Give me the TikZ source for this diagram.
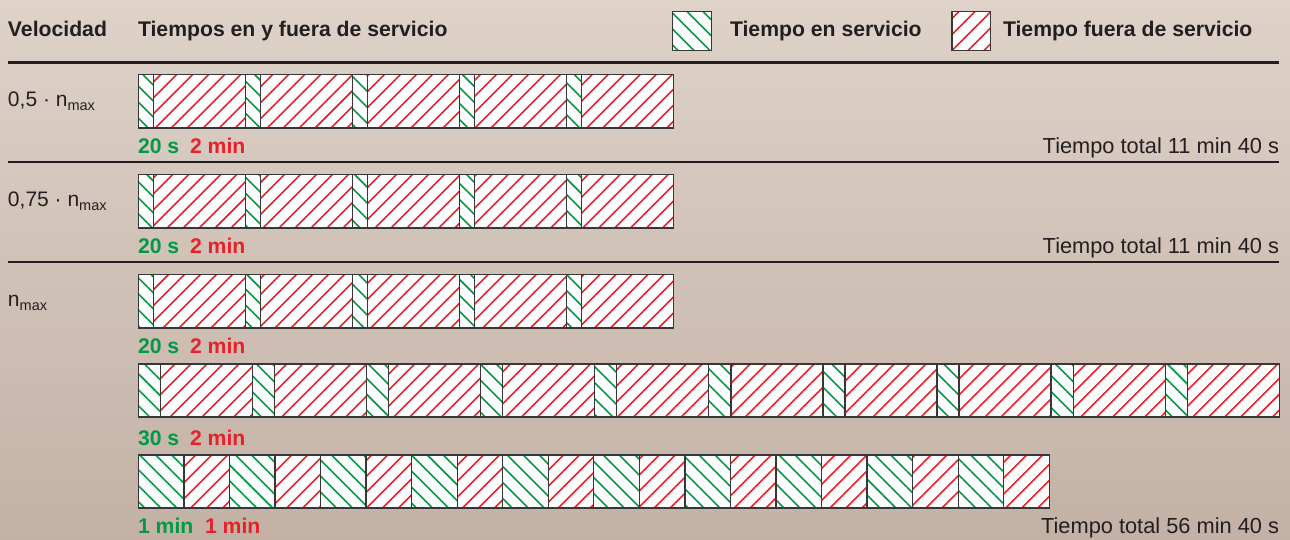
\documentclass[tikz,border=0pt]{standalone}
\usepackage{fontspec}
\setmainfont{Liberation Sans}
\usetikzlibrary{patterns.meta}
\definecolor{gr}{RGB}{0,154,70}
\definecolor{rd}{RGB}{232,32,40}
\definecolor{ink}{RGB}{35,31,32}
\definecolor{bgtop}{RGB}{222,210,201}
\definecolor{bgbot}{RGB}{195,177,165}
\definecolor{edge}{RGB}{55,55,55}
\newcommand{\nmaxlbl}{n\raisebox{-4pt}{\fontsize{14.5}{15}\selectfont max}}
\begin{document}
\begin{tikzpicture}[x=1pt,y=-1pt,
  txt/.style={anchor=base west,inner sep=0,outer sep=0,font=\fontsize{21}{25}\selectfont,text=ink},
  hd/.style={txt,font=\fontsize{21.2}{25}\selectfont\bfseries},
  tot/.style={txt,anchor=base east,font=\fontsize{21.8}{25}\selectfont},
  gtxt/.style={hd,text=gr},
  rtxt/.style={hd,text=rd},
  onseg/.style={draw=edge,line width=1.3pt,preaction={fill=white},
    pattern={Lines[angle=-45,distance=11.3pt,line width=1.6pt]},pattern color=gr},
  offseg/.style={draw=edge,line width=1.3pt,preaction={fill=white},
    pattern={Lines[angle=45,distance=11.3pt,line width=1.6pt]},pattern color=rd},
  rulethin/.style={draw=ink,line width=1.3pt},
  rulethick/.style={draw=ink,line width=2.6pt}]
\useasboundingbox (0,0) rectangle (1290,539);
\shade[top color=bgtop,bottom color=bgbot] (0,0) rectangle (1290,539);

% header
\node[hd] (hvel) at (8,36) {Velocidad};
\node[hd] (htiem) at (138,36) {Tiempos en y fuera de servicio};
\path[onseg] (672.7,11.3) rectangle (711.7,50.7);
\node[hd] (lgon) at (730,36) {Tiempo en servicio};
\path[offseg] (952,11.3) rectangle (990.7,50.7);
\node[hd] (lgoff) at (1003,36) {Tiempo fuera de servicio};
\draw[rulethick] (8,62.5) -- (1279,62.5);

% rows 1-3 : 5 x (20 s + 2 min)
\foreach \top in {74.5,174.5,274.5}{
  \foreach \i in {0,...,4}{
    \pgfmathsetmacro\xa{138.3+107*\i}
    \path[onseg] (\xa,\top) rectangle ++(15,53.5);
    \path[offseg] (\xa+15,\top) rectangle ++(92,53.5);
  }
}
\node[txt] (v1) at (8,106.5) {0,5 · \nmaxlbl};
\node[gtxt] (g1) at (138,153.5) {20 s};
\node[rtxt] (r1) at (190,153.5) {2 min};
\node[tot] (t1) at (1279,153.5) {Tiempo total 11 min 40 s};
\draw[rulethin] (8,162) -- (1279,162);

\node[txt] (v2) at (8,206.5) {0,75 · \nmaxlbl};
\node[gtxt] (g2) at (138,253.5) {20 s};
\node[rtxt] (r2) at (190,253.5) {2 min};
\node[tot] (t2) at (1279,253.5) {Tiempo total 11 min 40 s};
\draw[rulethin] (8,262) -- (1279,262);

\node[txt] (v3) at (8,306.5) {\nmaxlbl};
\node[gtxt] (g3) at (138,353.5) {20 s};
\node[rtxt] (r3) at (190,353.5) {2 min};

% row 4 : 10 x (30 s + 2 min)
\foreach \i in {0,...,9}{
  \pgfmathsetmacro\xa{138.3+114.1*\i}
  \path[onseg] (\xa,364) rectangle ++(22.1,53);
  \path[offseg] (\xa+22.1,364) rectangle ++(92,53);
}
\node[gtxt] (g4) at (138,445) {30 s};
\node[rtxt] (r4) at (190,445) {2 min};

% row 5 : 10 x (1 min + 1 min)
\foreach \i in {0,...,9}{
  \pgfmathsetmacro\xa{138.3+91.1*\i}
  \path[onseg] (\xa,455) rectangle ++(45.55,53);
  \path[offseg] (\xa+45.55,455) rectangle ++(45.55,53);
}
\node[gtxt] (g5) at (138,533.3) {1 min};
\node[rtxt] (r5) at (205,533.3) {1 min};
\node[tot] (t5) at (1279,533.3) {Tiempo total 56 min 40 s};
\end{tikzpicture}
\end{document}
